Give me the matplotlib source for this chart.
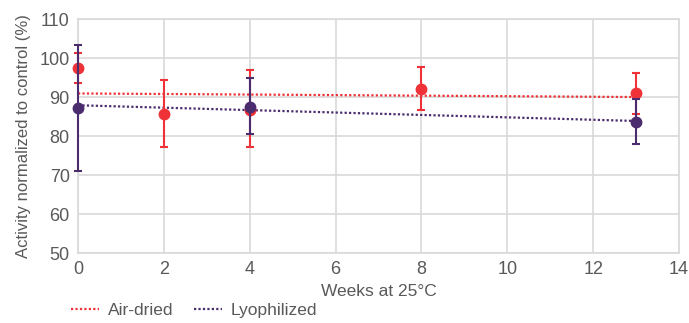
import numpy as np
import matplotlib.pyplot as plt

# Air-dried samples
air_weeks = [0, 2, 4, 8, 13]
air_activity = [97.4, 85.6, 86.7, 92.0, 91.0]
air_err_low = [3.7, 8.3, 9.6, 5.3, 5.4]
air_err_high = [3.8, 8.7, 10.2, 5.8, 5.2]

# Lyophilized samples
lyo_weeks = [0, 4, 13]
lyo_activity = [87.3, 87.5, 83.6]
lyo_err_low = [16.2, 7.1, 5.6]
lyo_err_high = [16.0, 7.5, 5.8]

red = "#ee3237"
purple = "#4b2c6e"
grey_text = "#595959"
grid_col = "#d9d9d9"

plt.rcParams["font.family"] = ["Liberation Sans", "DejaVu Sans"]

fig = plt.figure(figsize=(6.89, 3.23), dpi=100)
ax = fig.add_axes([0.1132, 0.2167, 0.8723, 0.7243])

# trendlines (linear fits, drawn from first to last week)
for weeks, vals, col, lab in [(air_weeks, air_activity, red, "Air-dried"),
                              (lyo_weeks, lyo_activity, purple, "Lyophilized")]:
    k, b = np.polyfit(weeks, vals, 1)
    xs = np.array([weeks[0], weeks[-1]])
    ax.plot(xs, k * xs + b, color=col, linestyle=(0, (1, 1)), linewidth=1.6,
            label=lab, zorder=2)

for weeks, vals, lo, hi, col, z in [
        (air_weeks, air_activity, air_err_low, air_err_high, red, 3),
        (lyo_weeks, lyo_activity, lyo_err_low, lyo_err_high, purple, 4)]:
    eb = ax.errorbar(weeks, vals, yerr=[lo, hi], fmt="o", color=col,
                     markersize=7.5, elinewidth=1.5, capsize=3, capthick=1.5,
                     zorder=z)
    for art in eb.get_children():
        art.set_clip_on(False)

ax.set_xlim(0, 14)
ax.set_ylim(50, 110)
ax.set_xticks(range(0, 15, 2))
ax.set_yticks(range(50, 111, 10))
ax.grid(color=grid_col, linewidth=1.2)
ax.set_axisbelow(True)
for s in ax.spines.values():
    s.set_color(grid_col)
    s.set_linewidth(1.2)
ax.tick_params(length=0, labelsize=13, labelcolor=grey_text, pad=6)
ax.set_xlabel("Weeks at 25°C", fontsize=12.5, color=grey_text, labelpad=4)
ax.set_ylabel("Activity normalized to control (%)", fontsize=12, color=grey_text,
              labelpad=6)

fig.legend(loc="upper left", bbox_to_anchor=(0.101, 0.068), ncol=2, frameon=False,
           fontsize=12.5, labelcolor=grey_text, handlelength=1.6, handletextpad=0.5,
           columnspacing=1.2, borderaxespad=0, borderpad=0.1)

fig.savefig("out.png", dpi=100)
